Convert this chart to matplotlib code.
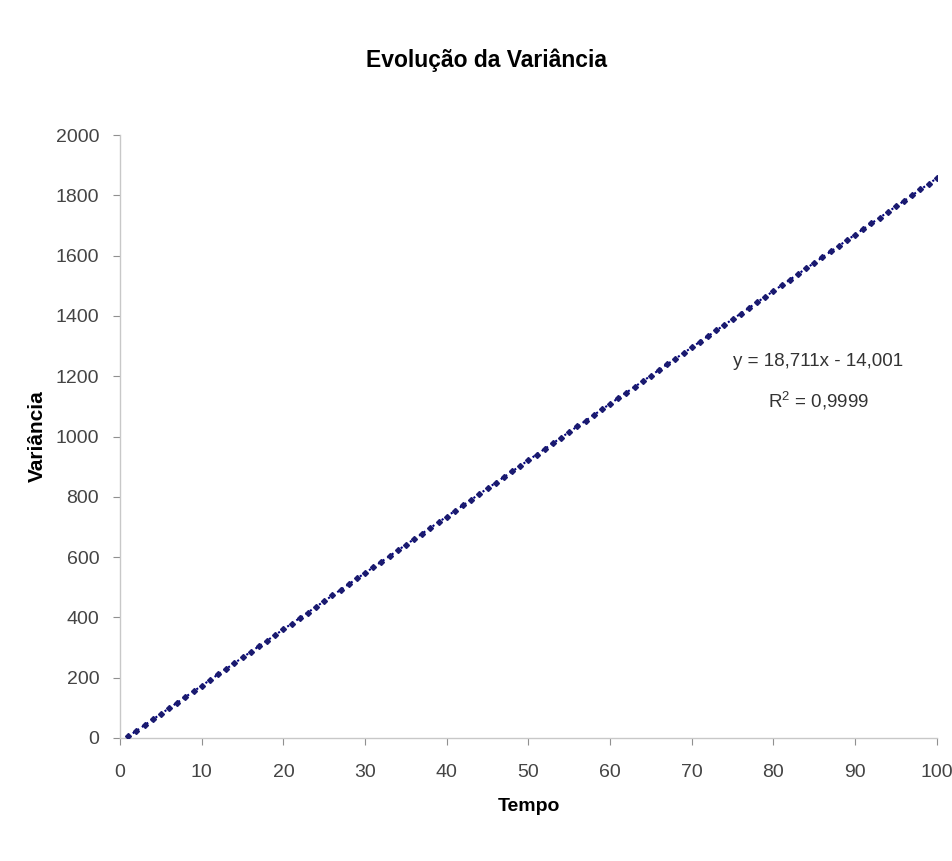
import matplotlib
matplotlib.use("Agg")
import matplotlib.pyplot as plt
import numpy as np

plt.rcParams['font.family'] = ['Liberation Sans', 'DejaVu Sans']

tempo = list(range(1, 101))
variancia = [5, 23, 42, 61, 80, 98, 117, 136, 154, 173,
             192, 211, 229, 248, 267, 285, 304, 323, 342, 360,
             379, 398, 416, 435, 454, 473, 491, 510, 529, 547,
             566, 585, 604, 622, 641, 660, 678, 697, 716, 734,
             753, 772, 791, 809, 828, 847, 865, 884, 903, 922,
             940, 959, 978, 996, 1015, 1034, 1053, 1071, 1090, 1109,
             1127, 1146, 1165, 1184, 1202, 1221, 1240, 1258, 1277, 1296,
             1315, 1333, 1352, 1371, 1389, 1408, 1427, 1445, 1464, 1483,
             1502, 1520, 1539, 1558, 1576, 1595, 1614, 1633, 1651, 1670,
             1689, 1707, 1726, 1745, 1764, 1782, 1801, 1820, 1838, 1857]
x_ticks = [0, 10, 20, 30, 40, 50, 60, 70, 80, 90, 100]
y_ticks = [0, 200, 400, 600, 800, 1000, 1200, 1400, 1600, 1800, 2000]
equation_text = "y = 18,711x - 14,001\n$\\mathregular{R^2}$ = 0,9999"

fig = plt.figure(figsize=(9.53, 8.61), dpi=100)
ax = fig.add_axes([0.126, 0.143, 0.857, 0.700])

x = np.array(tempo)
y = np.array(variancia)
coef = np.polyfit(x, y, 1)
ax.plot(x, np.polyval(coef, x), color='#000080', linestyle=':', linewidth=1.5, zorder=2)
ax.plot(x, y, linestyle='none', marker='D', markersize=3, color='#1a1a70', zorder=3)

ax.set_xlim(0, 100)
ax.set_ylim(0, 2000)
ax.set_xticks(x_ticks)
ax.set_yticks(y_ticks)
ax.set_xticklabels([str(v) for v in x_ticks])
ax.set_yticklabels([str(v) for v in y_ticks])

for s in ['top', 'right']:
    ax.spines[s].set_visible(False)
for s in ['left', 'bottom']:
    ax.spines[s].set_color('#c8c8c8')
    ax.spines[s].set_linewidth(1)
ax.tick_params(axis='both', direction='out', length=5, color='#909090',
               labelsize=14, labelcolor='#444444')
ax.tick_params(axis='x', pad=14)
ax.tick_params(axis='y', pad=10)

fig.text(0.51, 1 - 60 / 861, "Evolução da Variância", fontsize=16.5,
         fontweight='bold', ha='center', va='center')
ax.set_xlabel("Tempo", fontsize=14, fontweight='bold', labelpad=12)
ax.set_ylabel("Variância", fontsize=15, fontweight='bold', labelpad=6)

ax.text(85.5, 1180, equation_text, fontsize=13.5, ha='center', va='center',
        color='#333333', linespacing=2.1)

fig.savefig("out.png", dpi=100, facecolor='white')
